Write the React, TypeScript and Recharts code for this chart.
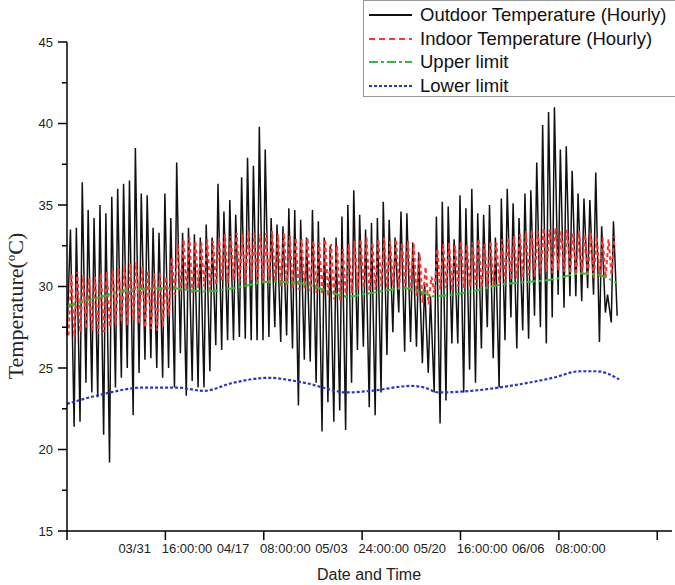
import { LineChart, Line, XAxis, YAxis, Label } from "recharts"

// daily extremes of the hourly outdoor record, one value per day from 03/15
const outdoorHigh = [
  33.5, 33.6, 36.4, 34.7, 34.2, 35.0, 34.5, 35.5, 36.0, 36.3,
  36.5, 38.5, 35.7, 35.6, 33.6, 33.3, 35.7, 34.2, 37.6, 33.3,
  33.6, 33.2, 33.0, 33.8, 33.0, 36.3, 34.6, 35.3, 34.4, 36.7,
  37.9, 37.4, 39.8, 38.4, 34.2, 33.8, 33.7, 34.8, 34.7, 34.1,
  33.0, 34.7, 34.0, 33.0, 32.5, 33.0, 34.3, 35.0, 35.9, 34.4,
  33.5, 33.9, 34.2, 35.2, 34.1, 33.0, 34.6, 34.5, 32.7, 32.1,
  30.2, 29.4, 34.3, 35.2, 34.9, 32.9, 35.6, 34.8, 36.0, 34.5,
  34.4, 35.0, 33.0, 35.4, 36.0, 35.1, 34.2, 35.7, 35.9, 37.6,
  39.9, 40.7, 41.0, 38.4, 38.6, 37.1, 35.7, 35.4, 35.3, 37.0,
  33.7, 29.5, 34.0,
]
const outdoorLow = [
  21.4, 21.7, 24.1, 23.5, 23.2, 20.9, 19.2, 23.8, 24.4, 25.0,
  22.1, 24.7, 25.5, 25.6, 25.0, 24.4, 25.0, 23.8, 25.9, 23.3,
  24.2, 23.8, 23.8, 24.8, 26.4, 26.1, 26.7, 26.7, 26.9, 26.8,
  26.7, 26.7, 26.7, 26.9, 27.5, 26.6, 27.0, 26.2, 22.7, 25.5,
  25.4, 24.1, 21.1, 22.9, 21.7, 22.4, 21.2, 24.1, 26.1, 26.3,
  22.6, 22.1, 23.5, 25.8, 27.2, 28.4, 26.0, 26.6, 26.3, 25.3,
  24.7, 23.5, 21.6, 23.0, 26.5, 26.5, 23.5, 24.9, 24.1, 26.2,
  27.5, 25.6, 23.8, 26.7, 28.1, 26.2, 27.3, 26.8, 28.2, 27.5,
  26.5, 28.1, 29.5, 28.7, 29.4, 29.4, 29.1, 29.9, 29.5, 26.6,
  28.4, 27.8, 28.2,
]
const indoorHigh = [
  30.8, 30.9, 30.7, 30.5, 30.6, 30.8, 30.9, 31.0, 31.1, 31.3,
  31.4, 31.5, 31.2, 31.0, 30.8, 30.9, 30.6, 31.8, 32.6, 32.9,
  33.0, 32.8, 32.7, 32.9, 32.8, 33.0, 33.2, 33.1, 33.3, 33.2,
  33.4, 33.3, 33.2, 33.3, 33.4, 33.2, 33.3, 33.1, 33.0, 32.9,
  33.0, 32.8, 32.7, 32.9, 32.6, 32.5, 32.3, 32.6, 32.8, 32.9,
  33.0, 32.7, 32.9, 33.0, 32.8, 32.9, 32.7, 32.8, 32.6, 32.0,
  31.2, 30.6, 32.3, 32.6, 32.7, 32.5, 32.8, 32.6, 32.7, 32.9,
  32.6, 32.8, 32.7, 32.9, 33.0, 33.1, 33.2, 33.4, 33.5, 33.4,
  33.6, 33.5, 33.6, 33.4, 33.5, 33.3, 33.4, 33.2, 33.3, 33.1,
  33.0, 32.9, 33.1,
]
const indoorLow = [
  27.0, 26.9, 27.2, 27.4, 27.3, 27.1, 27.2, 27.5, 27.6, 27.8,
  27.6, 27.9, 27.7, 27.5, 27.4, 27.3, 27.5, 28.2, 29.5, 29.7,
  29.8, 29.6, 29.9, 30.0, 29.8, 30.1, 30.3, 30.2, 30.4, 30.3,
  30.2, 30.4, 30.3, 30.2, 30.1, 30.3, 30.0, 30.1, 29.9, 29.8,
  29.9, 29.7, 29.6, 29.5, 29.4, 29.2, 29.1, 29.3, 29.6, 29.8,
  29.9, 29.7, 29.8, 30.0, 29.9, 30.0, 29.8, 29.9, 29.7, 29.4,
  29.0, 28.9, 29.6, 29.8, 29.9, 29.7, 30.0, 29.9, 30.0, 30.1,
  29.9, 30.0, 30.1, 30.2, 30.3, 30.4, 30.5, 30.6, 30.7, 30.6,
  30.8, 30.9, 30.8, 31.0, 30.9, 30.8, 30.7, 30.8, 30.6, 30.5,
  30.6, 30.5, 30.7,
]

// comfort limits (hours from start)
const upperHours = [0, 147, 269, 420, 555, 678, 829, 951, 1045, 1143, 1237, 1372, 1453, 1482, 1645, 1759, 1890, 1963, 2094, 2163, 2237]
const upperTemps = [28.8, 29.4, 29.8, 29.9, 29.7, 29.9, 30.3, 30.2, 29.8, 29.4, 29.6, 29.9, 29.6, 29.4, 29.7, 30.1, 30.3, 30.4, 30.8, 30.7, 30.2]
const lowerHours = [0, 147, 310, 449, 555, 678, 817, 963, 1143, 1237, 1400, 1453, 1510, 1645, 1800, 1976, 2086, 2155, 2208, 2245]
const lowerTemps = [22.8, 23.4, 23.8, 23.8, 23.6, 24.1, 24.4, 24.1, 23.5, 23.6, 23.9, 23.8, 23.5, 23.6, 23.9, 24.4, 24.8, 24.8, 24.6, 24.3]

const xTicks = [0, 400, 800, 1200, 1600, 2000, 2400]
const xTickLabels = ["", "03/31\u00a0\u00a0\u00a016:00:00", "04/17\u00a0\u00a0\u00a008:00:00", "05/03\u00a0\u00a0\u00a024:00:00", "05/20\u00a0\u00a0\u00a016:00:00", "06/06\u00a0\u00a0\u00a008:00:00", ""]
const yTicks = [15, 17.5, 20, 22.5, 25, 27.5, 30, 32.5, 35, 37.5, 40, 42.5, 45]

const outdoorData = [{ h: 0, t: 27.0 }]
outdoorHigh.forEach((v, d) => {
  outdoorData.push({ h: d * 24 + 14, t: v })
  outdoorData.push({ h: d * 24 + 29, t: outdoorLow[d] })
})
const indoorData: Array<{ h: number; t: number }> = []
indoorHigh.forEach((v, d) => {
  indoorData.push({ h: d * 24 + 6, t: indoorLow[d] })
  indoorData.push({ h: d * 24 + 18, t: v })
})
const upperData = upperHours.map((h, i) => ({ h, t: upperTemps[i] }))
const lowerData = lowerHours.map((h, i) => ({ h, t: lowerTemps[i] }))

const SANS = "'Liberation Sans', Arial, sans-serif"

const legendItems = [
  { label: "Outdoor Temperature (Hourly)", color: "#111", dash: undefined },
  { label: "Indoor Temperature (Hourly)", color: "#ff3333", dash: "6 4" },
  { label: "Upper limit", color: "#2fbf2f", dash: "9 3 3 3" },
  { label: "Lower limit", color: "#2b34c4", dash: "3 2" },
]

const YTick = (props: any) => {
  const { x, y, payload } = props
  const major = payload.value % 5 === 0
  return (
    <g>
      <line x1={x - (major ? 9 : 5)} x2={x} y1={y} y2={y} stroke="#000" strokeWidth={1.5} />
      {major && (
        <text x={x - 14} y={y} dy={4.5} textAnchor="end" fontSize={13} fill="#222" fontFamily={SANS}>
          {payload.value}
        </text>
      )}
    </g>
  )
}

const XTick = (props: any) => {
  const { x, y, index } = props
  return (
    <g>
      <line x1={x} x2={x} y1={y} y2={y + 9} stroke="#000" strokeWidth={1.5} />
      <text x={x} y={y + 22} textAnchor="middle" fontSize={13} fill="#222" fontFamily={SANS}>
        {xTickLabels[index] ?? ""}
      </text>
    </g>
  )
}

export default function App() {
  return (
    <div style={{ position: "absolute", left: 0, top: 0, width: 675, height: 585, overflow: "hidden", background: "#fff" }}>
      <LineChart width={675} height={585} margin={{ top: 42, right: 3, bottom: 0, left: 0 }}>
        <XAxis
          type="number"
          dataKey="h"
          height={54}
          domain={[0, 2460]}
          ticks={xTicks}
          interval={0}
          tickSize={0}
          tickMargin={0}
          tickLine={false}
          tick={<XTick />}
          axisLine={{ stroke: "#000", strokeWidth: 1.5 }}
        >
          <Label
            content={() => (
              <text x={369} y={580} textAnchor="middle" fontSize={16} fill="#222" fontFamily={SANS}>
                Date and Time
              </text>
            )}
          />
        </XAxis>
        <YAxis
          type="number"
          dataKey="t"
          width={67}
          domain={[15, 45]}
          ticks={yTicks}
          interval={0}
          tickSize={0}
          tickMargin={0}
          tickLine={false}
          tick={<YTick />}
          axisLine={{ stroke: "#000", strokeWidth: 1.5 }}
        >
          <Label
            content={() => (
              <text transform="translate(23,306) rotate(-90)" textAnchor="middle" fontSize={22} fill="#222" fontFamily="'Liberation Serif', 'Times New Roman', serif">
                Temperature(<tspan dy={-8} fontSize={13}>o</tspan><tspan dy={8}>C)</tspan>
              </text>
            )}
          />
        </YAxis>
        <Line data={outdoorData} dataKey="t" type="linear" stroke="#111" strokeWidth={1.5} dot={false} isAnimationActive={false} />
        <Line data={indoorData} dataKey="t" type="linear" stroke="#ff3333" strokeWidth={2} strokeDasharray="4 3" dot={false} isAnimationActive={false} />
        <Line data={upperData} dataKey="t" type="monotone" stroke="#2fbf2f" strokeWidth={2} strokeDasharray="9 3 3 3" dot={false} isAnimationActive={false} />
        <Line data={lowerData} dataKey="t" type="monotone" stroke="#2b34c4" strokeWidth={2.2} strokeDasharray="3 2" dot={false} isAnimationActive={false} />
      </LineChart>
      <div
        style={{
          position: "absolute",
          left: 363,
          top: 0,
          width: 330,
          height: 97,
          border: "1.5px solid #999",
          boxSizing: "border-box",
          background: "#fff",
        }}
      >
        {legendItems.map((it, i) => (
          <div key={it.label} style={{ position: "absolute", left: 5, top: 2 + i * 23.5, height: 24, display: "flex", alignItems: "center" }}>
            <svg width={43} height={10}>
              <line x1={0} x2={43} y1={5} y2={5} stroke={it.color} strokeWidth={2} strokeDasharray={it.dash} />
            </svg>
            <span style={{ marginLeft: 8, fontSize: 18.5, fontFamily: SANS, color: "#111", whiteSpace: "nowrap" }}>{it.label}</span>
          </div>
        ))}
      </div>
    </div>
  )
}
